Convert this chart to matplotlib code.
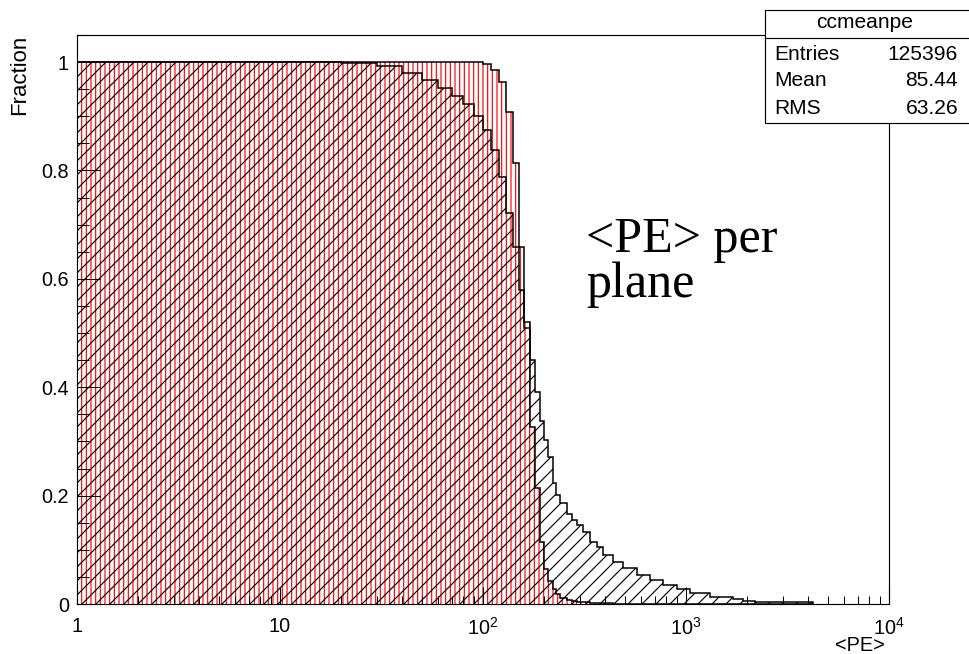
import matplotlib
matplotlib.use("Agg")
import matplotlib.pyplot as plt
from matplotlib.patches import Rectangle
from matplotlib.ticker import FixedLocator, MultipleLocator, NullFormatter, FixedFormatter

# bin edges in <PE> (10 PE bins, coarser in the tail)
pe_edges = [1, 10, 20, 30, 40, 50, 60, 70, 80, 90, 100, 110, 120, 130, 140,
            150, 160, 170, 180, 190, 200, 210, 220, 230, 240, 258, 273, 290,
            312, 337, 363, 392, 439, 491, 571, 665, 773, 900, 1047, 1313,
            1710, 1915, 2187, 4236]

# fraction of events above each threshold, all events (black, diagonal hatch)
frac_all = [1.0, 1.0, 0.999, 0.993, 0.980, 0.967, 0.952, 0.937, 0.922, 0.901,
            0.875, 0.838, 0.788, 0.721, 0.659, 0.580, 0.509, 0.451, 0.392,
            0.337, 0.303, 0.271, 0.223, 0.201, 0.186, 0.167, 0.155, 0.146,
            0.133, 0.115, 0.106, 0.090, 0.078, 0.066, 0.054, 0.044, 0.035,
            0.027, 0.021, 0.013, 0.009, 0.006, 0.003]

# fraction for the selected sample (red, vertical hatch)
frac_sel = [1.0, 1.0, 1.0, 1.0, 1.0, 1.0, 1.0, 1.0, 1.0, 1.0,
            0.996, 0.985, 0.963, 0.908, 0.814, 0.659, 0.520, 0.327, 0.214,
            0.114, 0.065, 0.042, 0.028, 0.018, 0.011, 0.007, 0.005, 0.004,
            0.003, 0.002, 0.002, 0.001, 0.0, 0.0, 0.0, 0.0, 0.0,
            0.0, 0.0, 0.0, 0.0, 0.0, 0.0]

x_ticks = [1, 10, 100, 1000, 10000]
x_ticklabels = ["1", "10", r"$\mathregular{10^{2}}$", r"$\mathregular{10^{3}}$",
                r"$\mathregular{10^{4}}$"]
y_ticks = [0, 0.2, 0.4, 0.6, 0.8, 1.0]
y_ticklabels = ["0", "0.2", "0.4", "0.6", "0.8", "1"]

stats_name = "ccmeanpe"
stats_rows = [("Entries", "125396"), ("Mean", "85.44"), ("RMS", "63.26")]

DPI = 84
W, H = 969, 654
plt.rcParams["font.family"] = ["Liberation Sans", "DejaVu Sans"]
plt.rcParams["mathtext.fontset"] = "custom"
plt.rcParams["mathtext.rm"] = "Liberation Sans"
plt.rcParams["hatch.linewidth"] = 1.0

fig = plt.figure(figsize=(W / DPI, H / DPI), dpi=DPI)
ax = fig.add_axes([77 / W, 1 - 604 / H, (889 - 77) / W, (604 - 35) / H])

ax.stairs(frac_sel, pe_edges, fill=True, facecolor="none", edgecolor="red",
          hatch="|||", linewidth=0, zorder=1)
ax.stairs(frac_all, pe_edges, fill=True, facecolor="none", edgecolor="black",
          hatch="//", linewidth=0, zorder=2)
ax.stairs(frac_sel, pe_edges, color="black", linewidth=1.3, zorder=3)
ax.stairs(frac_all, pe_edges, color="black", linewidth=1.3, zorder=3)

ax.set_xscale("log")
ax.set_xlim(1, 10000)
ax.set_ylim(0, 1.05)

ax.xaxis.set_major_locator(FixedLocator(x_ticks))
ax.xaxis.set_major_formatter(FixedFormatter(x_ticklabels))
minor = [m * 10 ** d for d in range(4) for m in range(2, 10)]
ax.xaxis.set_minor_locator(FixedLocator(minor))
ax.xaxis.set_minor_formatter(NullFormatter())
ax.yaxis.set_major_locator(FixedLocator(y_ticks))
ax.yaxis.set_major_formatter(FixedFormatter(y_ticklabels))
ax.yaxis.set_minor_locator(MultipleLocator(0.05))

ax.tick_params(which="both", direction="in", top=False, right=False,
               width=0.9, labelsize=17)
ax.tick_params(axis="x", which="major", length=15, pad=11)
ax.tick_params(axis="x", which="minor", length=7)
ax.tick_params(axis="y", which="major", length=20, pad=7)
ax.tick_params(axis="y", which="minor", length=10)
for s in ax.spines.values():
    s.set_linewidth(1.0)

ax.text(0.995, -0.073, "<PE>", transform=ax.transAxes, ha="right", va="center",
        fontsize=17)
fig.text(20 / W, 1 - 35 / H, "Fraction", rotation=90, ha="center", va="top",
         fontsize=19)

ax.text(586 / W, 1 - 262 / H, "<PE> per\nplane", transform=fig.transFigure,
        fontsize=43, family=["Liberation Serif", "DejaVu Serif"],
        ha="left", va="center", linespacing=0.95)

# statistics box in the top right corner
box_l, box_t, box_b, box_sep = 765, 10, 123, 38
fig.patches.append(Rectangle((box_l / W, 1 - box_b / H), (W - box_l + 5) / W,
                             (box_b - box_t) / H, transform=fig.transFigure,
                             facecolor="white", edgecolor="black", lw=1.0,
                             zorder=10))
fig.lines.append(plt.Line2D([box_l / W, 1.0], [1 - box_sep / H] * 2,
                            transform=fig.transFigure, color="black", lw=1.0,
                            zorder=11))
fig.text(865 / W, 1 - 23 / H, stats_name, ha="center", va="center",
         fontsize=18, zorder=12)
for i, (k, v) in enumerate(stats_rows):
    yy = 1 - (54 + i * 27) / H
    fig.text(774 / W, yy, k, ha="left", va="center", fontsize=18, zorder=12)
    fig.text(958 / W, yy, v, ha="right", va="center", fontsize=18, zorder=12)

fig.savefig("out.png", dpi=DPI)
